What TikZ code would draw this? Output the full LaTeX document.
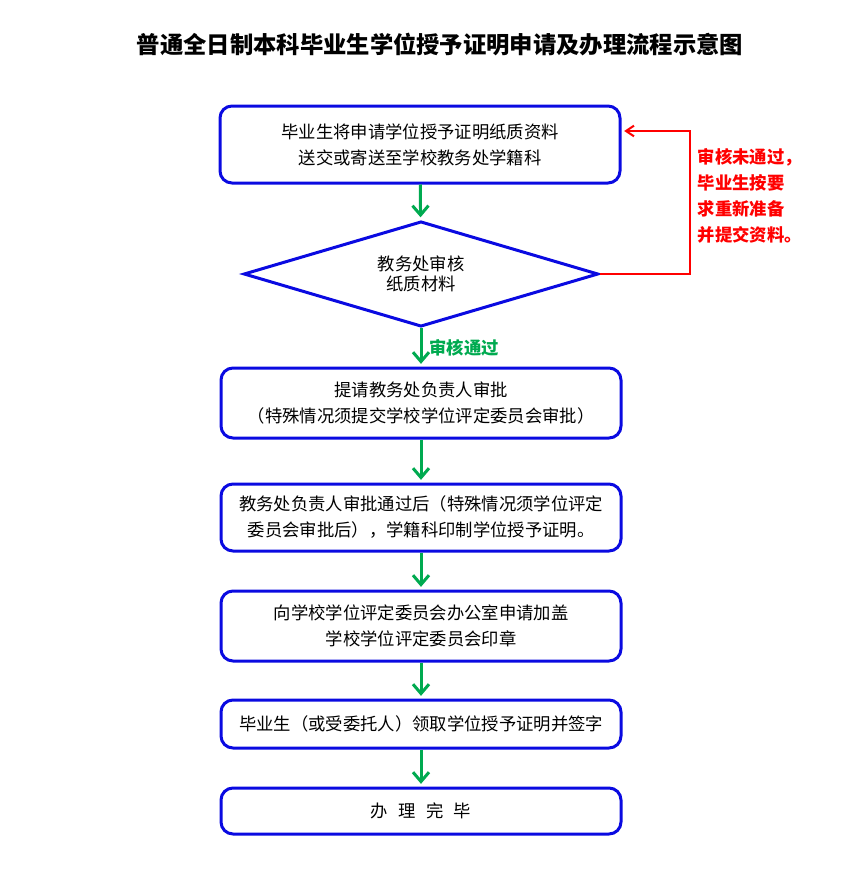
\documentclass[tikz,border=0pt]{standalone}
\usepackage{fontspec}
\setmainfont{Noto Sans CJK SC}
\usetikzlibrary{shapes.geometric,arrows.meta}
\definecolor{boxblue}{RGB}{10,10,225}
\definecolor{okgreen}{RGB}{0,170,80}
\begin{document}
\begin{tikzpicture}[x=0.75pt, y=-0.75pt,
        every node/.style={font=\fontsize{13pt}{19.5pt}\selectfont, align=center},
        n/.style={draw=boxblue, line width=2.25pt, rounded corners=9pt, minimum width=300pt, inner sep=0pt},
        decide/.style={diamond, draw=boxblue, line width=2.25pt, aspect=3.4, minimum width=266pt, minimum height=79pt, inner sep=0pt, font=\fontsize{13pt}{15pt}\selectfont},
        go/.style={okgreen, line width=2.25pt, -{Straight Barb[length=7pt, width=12pt]}, shorten >=2pt},
        back/.style={red, line width=1.5pt, -{Straight Barb[length=6pt, width=8pt]}, shorten >=2pt}]
        \useasboundingbox (0, 0) rectangle (857, 875);

        \node (ttl) at (440, 45) {\fontsize{17.5pt}{20pt}\selectfont\bfseries 普通全日制本科毕业生学位授予证明申请及办理流程示意图};

        \node[n, minimum height=57.75pt] (send) at (420, 144.5) {毕业生将申请学位授予证明纸质资料\\送交或寄送至学校教务处学籍科};
        \node[decide] (check) at (421, 274) {教务处审核\\纸质材料};
        \node[n, minimum height=52.5pt] (ask) at (421, 403) {提请教务处负责人审批\\（特殊情况须提交学校学位评定委员会审批）};
        \node[n, minimum height=50.25pt] (print) at (421, 517.5) {教务处负责人审批通过后（特殊情况须学位评定\\委员会审批后），学籍科印制学位授予证明。};
        \node[n, minimum height=52.5pt] (seal) at (421, 626) {向学校学位评定委员会办公室申请加盖\\学校学位评定委员会印章};
        \node[n, minimum height=36pt] (take) at (421, 724) {毕业生（或受委托人）领取学位授予证明并签字};
        \node[n, minimum height=34.5pt] (done) at (421, 811) {办\hspace{0.6em}理\hspace{0.6em}完\hspace{0.6em}毕};

        \coordinate (turn) at (690, 131);
        \node[anchor=west, red, align=left] (redo) at (693, 196) {\bfseries 审核未通过，\\\bfseries 毕业生按要\\\bfseries 求重新准备\\\bfseries 并提交资料。};

        \draw[go] (send) edge (check);
        \draw[go] (check) edge node[right, okgreen, xshift=2pt] {\bfseries 审核通过} (ask);
        \draw[go] (ask) edge (print);
        \draw[go] (print) edge (seal);
        \draw[go] (seal) edge (take);
        \draw[go] (take) edge (done);
        \draw[back] (check.east) -| (turn) -- (send.east |- turn);
    \end{tikzpicture}
\end{document}
